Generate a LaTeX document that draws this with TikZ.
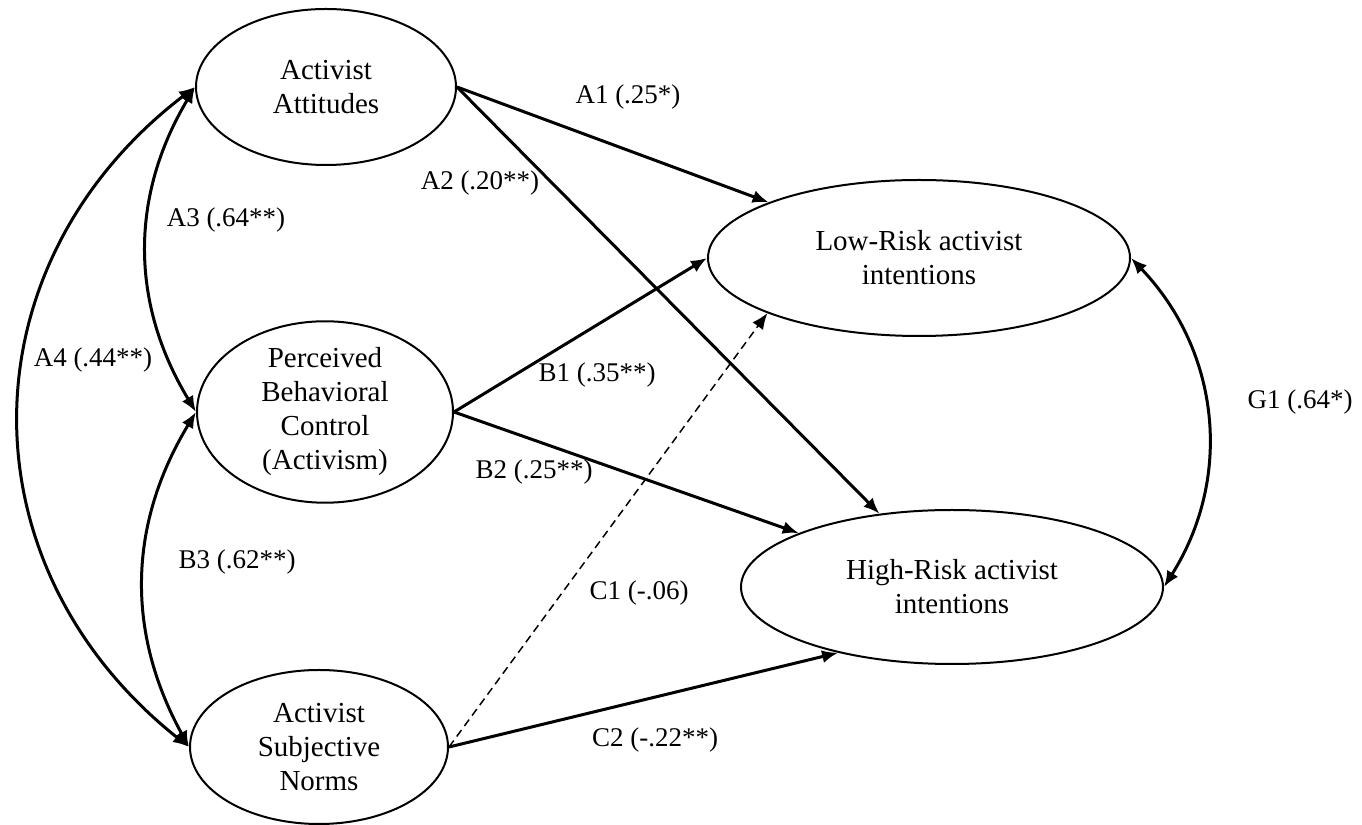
\documentclass[tikz,border=0pt]{standalone}
\usepackage{fontspec}
\setmainfont{Liberation Serif}
\usetikzlibrary{shapes.geometric,arrows.meta}

\tikzset{
  latent/.style={draw, ellipse, line width=1pt, inner sep=0pt, align=center,
    font=\fontsize{14.5}{17}\selectfont},
  coef/.style={inner sep=1pt, font=\fontsize{13.5}{16}\selectfont},
  effect/.style={line width=1.5pt, -{Latex[length=8pt,width=6.5pt]}},
  nseffect/.style={line width=0.75pt, dash pattern=on 4pt off 2.5pt, -{Latex[length=8pt,width=6.5pt]}},
  covar/.style={line width=1.5pt, {Latex[length=8pt,width=6.5pt]}-{Latex[length=8pt,width=6.5pt]}}
}

\begin{document}
\begin{tikzpicture}[x=0.5pt, y=0.5pt]
    \useasboundingbox (0,0) rectangle (1362,825);
    \node[latent, minimum width=130pt, minimum height=78pt] (1) at (326,738) {Activist\\Attitudes};
    \node[latent, minimum width=128pt, minimum height=78pt] (2) at (325,413) {Perceived\\Behavioral\\Control\\(Activism)};
    \node[latent, minimum width=129pt, minimum height=77pt] (3) at (319,78) {Activist\\Subjective\\Norms};
    \node[latent, minimum width=211pt, minimum height=78pt] (4) at (919,567) {Low-Risk activist\\intentions};
    \node[latent, minimum width=211pt, minimum height=77pt] (5) at (952,238) {High-Risk activist\\intentions};
    \node[coef] (6) at (628,728) {A1 (.25*)};
    \node[coef] (7) at (480,642) {A2 (.20**)};
    \node[coef] (8) at (226,605) {A3 (.64**)};
    \node[coef] (9) at (93,465) {A4 (.44**)};
    \node[coef] (10) at (597,450) {B1 (.35**)};
    \node[coef] (11) at (534,353) {B2 (.25**)};
    \node[coef] (12) at (237,263) {B3 (.62**)};
    \node[coef] (13) at (639,232) {C1 (-.06)};
    \node[coef] (14) at (655,85) {C2 (-.22**)};
    \node[coef] (15) at (1300,423) {G1 (.64*)};
    \draw[effect] (1.east) -- (4);
    \draw[effect] (1.east) -- (5);
    \draw[effect] (2.east) -- (4.west);
    \draw[effect] (2.east) -- (5);
    \draw[nseffect] (3.east) -- (4.200);
    \draw[effect] (3.east) -- (5.210);
    \draw[covar] (1.west) to[bend right=31] (2.west);
    \draw[covar] (2.west) to[bend right=30] (3.west);
    \draw[covar] (1.west) to[bend right=52, looseness=1.13] (3.west);
    \draw[covar] (4.east) to[bend left=38] (5.east);
\end{tikzpicture}
\end{document}
